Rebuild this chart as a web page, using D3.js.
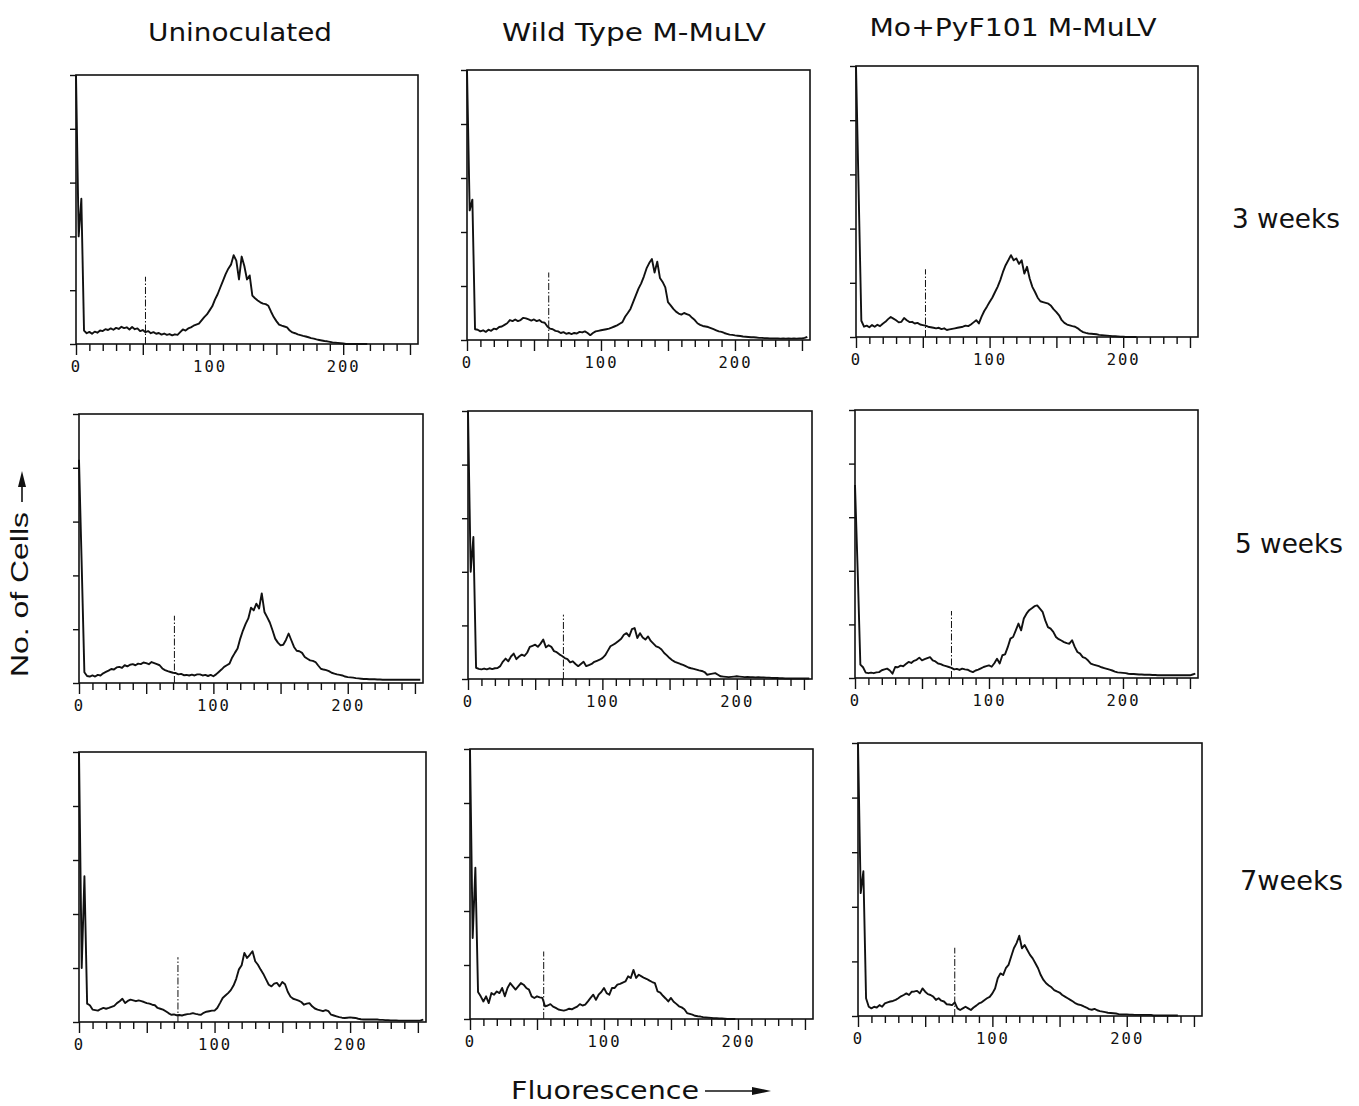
<!DOCTYPE html>
<html><head><meta charset="utf-8">
<script src="https://cdn.jsdelivr.net/npm/d3@7"></script>
<style>body{margin:0;background:#fff} svg{display:block}</style>
</head><body>
<svg id="chart" width="1359" height="1106"></svg>
<script>
// ---------------- DATA ----------------
const channelStep = 2;                 // each value = one histogram point every 2 channels, starting at channel 0
const colTitles = ["Uninoculated", "Wild Type M-MuLV", "Mo+PyF101 M-MuLV"];
const rowLabels = ["3 weeks", "5 weeks", "7weeks"];
const xMinorTicks = [0,10,20,30,40,50,60,70,80,90,100,110,120,130,140,150,160,170,180,190,200,210,220,230,240,250];
const xTickLabels = [0, 100, 200];
const yTicks = [0, 20, 40, 60, 80, 100];

// values in % of the full-scale cell count (100 = top of frame), channels 0,2,4,...
const uninoc3 = [100,40,54,5,
 4,4.5,3.8,4.6,4.2,5,4.8,5.5,5.2,5.8,5.3,6,5.6,6.4,5.9,6.2,
 5.4,6.3,5.5,5.8,4.8,5.2,4.4,4.8,4.0,4.4,
 3.8,4.1,3.5,3.9,3.4,3.7,3.2,3.6,3.4,4.4,
 5.4,5.0,5.8,6.2,6.8,7.2,7.6,8.8,10,11,
 12.5,14,16.5,18.5,21,23.5,26,28,29.5,33,
 31,24,32.5,29,24,25.5,18,17,16.2,15.5,
 15,14.8,14.2,12,10,8.5,7.2,6.8,6.5,6.2,
 5,4.3,4,3.6,3.3,3,2.8,2.5,2.2,2,
 1.7,1.5,1.3,1.1,1,0.8,0.6,0.5,0.4,0.3,
 0.2,0,0,0,0,0,0,0,0,0];
const wild3 = [100,48,52,4,
 3.8,3.2,3.6,3.0,3.8,3.4,4.2,4.0,4.8,5.0,5.6,6.2,7.4,7.0,7.6,7.0,
 7.4,8.2,8.0,7.6,7.2,7.6,7.0,7.4,6.6,6.4,
 5.0,4.2,4.0,3.4,3.2,2.6,2.9,2.3,2.6,2.2,
 2.6,2.4,3.0,2.8,3.2,2.6,1.8,2.6,3.2,3.4,
 3.6,3.8,4.0,4.2,4.6,5.0,5.4,6.0,6.6,8.6,
 10,11.5,14,16.5,19,21,23.5,26.5,28.5,30,
 25,29,23,21.5,19.5,14,12.8,11.5,10.5,9.8,
 9.4,10,9.6,9.2,8.2,7.4,6.2,5.6,5.2,5.0,
 4.8,4.4,4.0,3.6,3.2,3.0,2.6,2.3,2.0,1.9,
 1.7,1.6,1.5,1.3,1.2,1.1,1.0,1.0,0.9,0.8,
 0.8,0.7,0.7,0.6,0.6,0.6,0.6,0.5,0.6,0.5,
 0.6,0.5,0.6,0.5,0.6,0.6,0.8,1.2];
const mopy3 = [100,53,6,3.8,
 4.2,3.6,4.4,3.8,4.5,4.0,4.9,5.6,6.6,7.4,6.8,6.2,5.4,5.6,7.0,6.2,
 5.5,5.6,5.0,5.2,4.6,4.4,4.2,3.8,3.6,3.4,
 3.2,3.4,2.9,3.2,2.6,2.8,3.0,3.2,3.4,3.6,
 3.8,4.2,4.0,4.6,5.4,6.2,5.0,7.5,9.6,11.2,
 12.9,14.5,16.5,18.5,21,24,26.5,28.3,30.2,28.3,
 29,27,28.3,23.4,25.9,21.6,18.5,16.6,14.5,13.2,
 12.9,12.6,12.3,11.5,10.2,9.2,8,6.2,5.2,4.6,
 4.3,4.0,3.8,3.2,2.4,1.8,1.5,1.3,1.2,1.1,
 1.0,0.8,0.7,0.6,0.5,0.4,0.3,0.3,0.2,0.1,
 0.1,0,0,0,0,0];
const uninoc5 = [83,44,4,2.6,
 2.4,2.8,2.4,3.0,2.8,3.6,4.1,4.6,5.2,5.0,5.8,6.0,5.6,6.6,6.2,6.8,
 7.0,6.6,7.2,7.0,7.6,7.4,7.0,7.8,7.4,7.0,
 6.6,5.4,4.8,4.4,4.1,3.8,3.7,3.2,3.4,2.9,
 3.0,2.8,3.1,2.8,3.2,3.2,2.8,3.0,2.6,3.0,
 2.5,3.2,4.1,5.0,6.0,6.6,7.2,9.5,11.2,12.8,
 16.5,19.5,22,24,28,27,29.5,27.7,33.3,26.4,
 24.5,22.5,19.6,16.5,15,14,14.2,16,18.4,15.9,
 13.4,12,11.8,11.2,9.7,9,8.4,8.2,7.8,6.5,
 5.3,5.0,4.8,4.4,3.8,3.5,3.2,3.0,2.8,2.4,
 2.2,2.1,2.0,1.8,1.7,1.6,1.5,1.5,1.4,1.4,
 1.4,1.3,1.3,1.2,1.2,1.2,1.2,1.2,1.2,1.2,
 1.2,1.2,1.2,1.2,1.2,1.2,1.2,1.2];
const wild5 = [100,40,53,4.2,
 3.8,3.6,3.9,3.6,4.0,3.7,4.0,4.1,4.8,6.5,7.6,6.6,8.4,9.5,7.4,8.4,
 9.1,8.6,9.8,12.0,12.4,12.8,12.0,13.2,14.7,11.8,
 12.6,12.0,10.4,10.0,9.2,8.6,7.8,7.4,6.2,6.6,
 5.6,4.8,5.6,6.4,4.8,5.2,5.6,6.4,6.8,7.2,
 7.8,8.8,10.5,12.2,12.8,13.4,14.2,15.0,16.5,17.1,
 15.9,18.6,19.0,15.3,17.1,15.5,14.7,15.9,14.2,13.2,
 12.2,11.8,11.0,9.7,8.8,7.8,7.0,6.4,6.0,5.6,
 5.3,4.8,4.3,4.0,3.8,3.5,3.2,3.0,2.6,1.6,
 1.8,2.0,2.2,1.6,1.0,0.9,0.8,0.7,0.8,0.9,
 1.0,0.9,0.8,0.7,0.8,0.7,0.7,0.6,0.7,0.6,
 0.6,0.5,0.5,0.4,0.4,0.4,0.3,0.3,0.2,0.2,
 0.2,0.2,0.2,0.2,0.2,0.2,0.2,0.2];
const mopy5 = [72,40,5,4,
 2,1.8,2,1.8,2.1,2.2,2.9,3.2,3.5,2.8,1.6,4.1,4.0,4.6,4.4,5.2,
 6.0,5.6,6.4,6.8,7.6,6.6,7.0,7.4,7.8,6.6,
 6.2,5.4,5.2,4.7,4.4,4.1,3.8,3.2,3.4,3.0,
 3.5,3.2,3.1,2.6,2.2,2.8,3.1,3.6,4.1,4.4,
 4.7,4.2,5.5,7.2,5.4,8.5,8.8,11.5,14.7,15.3,
 17.8,20.3,17.8,22.2,24,25.3,26,26.8,27.1,25.9,
 24.7,21.5,19,18.4,17.2,15.3,14.5,14,13.4,13.0,
 12.8,14.1,11.6,9.7,9.1,7.8,7.4,6.5,5.4,5.0,
 4.7,4.4,4.0,3.7,3.4,3.1,2.8,2.4,2.1,2.0,
 1.9,1.8,1.6,1.5,1.5,1.4,1.3,1.3,1.2,1.2,
 1.2,1.1,1.1,1.0,1.0,1.0,1.0,1.0,1.0,1.0,
 1.0,1.0,1.0,1.0,1.0,1.0,1.3,1.6];
const uninoc7 = [100,20,54,6.8,
 6.2,4.6,4.4,4.2,4.8,5.2,4.9,5.2,5.6,6.0,7.0,7.7,8.6,7.0,7.8,8.3,
 8.0,7.7,8.0,7.7,7.4,7.0,6.8,6.4,6.2,5.2,
 4.9,4.6,4.0,3.3,2.7,2.8,2.5,2.6,2.4,2.7,
 2.9,3.0,3.3,3.0,2.8,2.7,3.4,3.8,4.0,4.2,
 4.2,5.2,7.0,8.9,9.8,10.7,11.8,13.5,16.0,19.5,
 21.0,25.6,23.7,24.9,26.2,22.5,21.2,19.4,17.8,15.8,
 13.8,13.2,14.2,14.5,13.2,14.8,14.0,11.2,9.4,8.6,
 8.3,7.9,7.4,6.4,6.8,7.0,5.8,5.0,4.6,4.3,
 4.0,4.4,4.0,2.7,2.4,2.1,1.8,1.6,1.5,1.6,
 1.7,1.6,1.5,1.2,1.0,0.9,0.9,0.9,0.9,0.9,
 0.9,0.8,0.8,0.7,0.7,0.6,0.6,0.6,0.5,0.5,
 0.5,0.5,0.5,0.5,0.5,0.5,0.6,0.9];
const wild7 = [100,30,56,10,
 8.4,6.5,8.4,5.9,9.6,9.0,10.2,9.6,11.5,8.4,11.5,13.3,12.1,10.9,12.1,13.3,
 12.7,11.5,10.9,8.4,7.8,8.4,8.0,7.8,4.7,5.0,
 5.5,4.6,4.1,3.5,3.3,3.1,3.4,3.8,3.6,4.1,
 4.6,5.5,5.0,5.3,6.5,7.8,9.0,7.1,9.0,10.0,
 11.5,9.6,9.0,11.5,11.5,12.7,13.0,13.5,13.9,15.8,
 15.2,18.2,15.2,16.4,15.8,15.2,14.8,14.2,13.7,13.3,
 10.2,9.8,8.6,7.6,6.5,7.8,6.4,5.6,4.7,4.3,
 3.6,2.2,1.9,1.6,1.2,1.0,0.9,0.7,0.6,0.5,
 0.4,0.3,0.3,0.2,0.2,0.1,0,0,0,0];
const mopy7 = [100,45,53,6.5,
 3.4,2.8,3.4,3.1,4.0,3.4,4.6,5.0,5.3,5.5,5.9,6.5,7.2,7.7,8.3,7.7,
 8.9,9.0,9.2,8.3,10.1,8.9,8.0,7.7,7.1,5.9,
 6.5,5.6,5.3,4.3,4.2,4.0,5.0,2.8,2.2,2.8,
 3.4,2.8,2.2,3.1,3.8,4.6,5.0,5.8,6.5,7.0,
 8.3,10.1,13.8,15.6,15.0,17.5,18.7,21.8,24.8,26.7,
 29.4,24.8,26.0,24.2,22.4,21.1,19.3,17.5,15.0,13.2,
 12.0,11.2,10.5,9.5,9.0,8.6,7.7,7.1,6.5,5.9,
 5.3,4.6,4.2,4.0,3.5,3.1,2.5,2.3,2.6,2.1,
 1.8,1.6,1.4,1.2,1.1,1.0,0.9,0.7,0.6,0.6,
 0.6,0.5,0.5,0.4,0.4,0.4,0.4,0.4,0.4,0.4,
 0.2,0.2,0.2,0.2,0.2,0.2,0.2,0.2,0.2,0.2];

// gate marker (dash-dot line) channel and height, one per panel (row-major)
const markerChannel = [52, 61, 52, 71, 71, 72, 73, 55, 72];
const markerHeight  = [25, 25, 25, 25, 24, 25, 24, 25, 25];

const series = [uninoc3, wild3, mopy3, uninoc5, wild5, mopy5, uninoc7, wild7, mopy7];

// ---------------- LAYOUT ----------------
const boxes = [
  [76, 75, 418, 344], [467, 70, 810, 340], [856, 66, 1198, 337],
  [79, 414, 423, 683], [468, 411, 812, 679], [855, 410, 1198, 678],
  [79, 752, 426, 1022], [470, 749, 813, 1019], [858, 743, 1202, 1016]
];
const ink = "#111";
const svg = d3.select("#chart");

series.forEach((vals, k) => {
  const [L, T, R, B] = boxes[k];
  const x = d3.scaleLinear().domain([0, 256]).range([L, R]);
  const y = d3.scaleLinear().domain([0, 100]).range([B, T]).clamp(true);
  const g = svg.append("g");

  // frame
  g.append("rect").attr("x", L).attr("y", T).attr("width", R - L).attr("height", B - T)
    .attr("fill", "none").attr("stroke", ink).attr("stroke-width", 1.6);

  // x axis ticks
  const xa = g.append("g").attr("transform", `translate(0,${B})`)
    .call(d3.axisBottom(x).tickValues(xMinorTicks).tickSize(7).tickPadding(0)
      .tickFormat(d => xTickLabels.includes(d) ? String(d) : ""));
  xa.select(".domain").remove();
  xa.selectAll(".tick line").attr("stroke", ink).attr("stroke-width", 1.4)
    .attr("y2", d => d % 50 === 0 ? 11 : 7);
  xa.selectAll(".tick text").attr("y", 17).attr("dy", "0.72em")
    .attr("fill", ink).style("font-family", "'DejaVu Sans Mono', 'Liberation Mono', monospace")
    .style("font-size", "15.5px").style("letter-spacing", "2px");

  // y axis ticks
  const ya = g.append("g").attr("transform", `translate(${L},0)`)
    .call(d3.axisLeft(y).tickValues(yTicks).tickSize(6).tickFormat(""));
  ya.select(".domain").remove();
  ya.selectAll(".tick line").attr("stroke", ink).attr("stroke-width", 1.4);

  // gate marker
  g.append("line")
    .attr("x1", x(markerChannel[k])).attr("x2", x(markerChannel[k]))
    .attr("y1", y(0)).attr("y2", y(markerHeight[k]))
    .attr("stroke", ink).attr("stroke-width", 1).attr("stroke-dasharray", "7,2,1.5,2");

  // histogram
  const line = d3.line().x((d, i) => x(i * channelStep)).y(d => y(d));
  g.append("path").datum(vals).attr("d", line)
    .attr("fill", "none").attr("stroke", ink).attr("stroke-width", 1.9)
    .attr("stroke-linejoin", "round");
});

// column titles
const titleX = [240, 634, 1013], titleY = [41, 41, 36], titleW = [184, 264, 287];
colTitles.forEach((t, i) => {
  svg.append("text").text(t).attr("x", titleX[i] - titleW[i] / 2).attr("y", titleY[i])
    .attr("textLength", titleW[i]).attr("lengthAdjust", "spacingAndGlyphs")
    .attr("fill", ink).style("font-family", "'DejaVu Sans', sans-serif").style("font-size", "25px");
});

// row labels
const rowX = [1232, 1235, 1240], rowY = [228, 553, 890], rowW = [108, 108, 103];
rowLabels.forEach((t, i) => {
  svg.append("text").text(t).attr("x", rowX[i]).attr("y", rowY[i])
    .attr("textLength", rowW[i]).attr("lengthAdjust", "spacingAndGlyphs")
    .attr("fill", ink).style("font-family", "'DejaVu Sans', sans-serif").style("font-size", "27px");
});

// y label with arrow
const yl = svg.append("g").attr("transform", "translate(28,677) rotate(-90)");
yl.append("text").text("No. of Cells").attr("x", 0).attr("y", 0)
  .attr("textLength", 165).attr("lengthAdjust", "spacingAndGlyphs")
  .attr("fill", ink).style("font-family", "'Liberation Sans', Arial, sans-serif").style("font-size", "23px");
yl.append("line").attr("x1", 175).attr("x2", 193).attr("y1", -6).attr("y2", -6)
  .attr("stroke", ink).attr("stroke-width", 1.6);
yl.append("path").attr("d", "M190,-10 L206,-6 L190,-2 Z").attr("fill", ink);

// x label with arrow
svg.append("text").text("Fluorescence").attr("x", 511).attr("y", 1099)
  .attr("textLength", 188).attr("lengthAdjust", "spacingAndGlyphs")
  .attr("fill", ink).style("font-family", "'DejaVu Sans', sans-serif").style("font-size", "25px");
svg.append("line").attr("x1", 705).attr("x2", 756).attr("y1", 1091).attr("y2", 1091)
  .attr("stroke", ink).attr("stroke-width", 1.6);
svg.append("path").attr("d", "M752,1087 L771,1091 L752,1095 Z").attr("fill", ink);
</script>
</body></html>
